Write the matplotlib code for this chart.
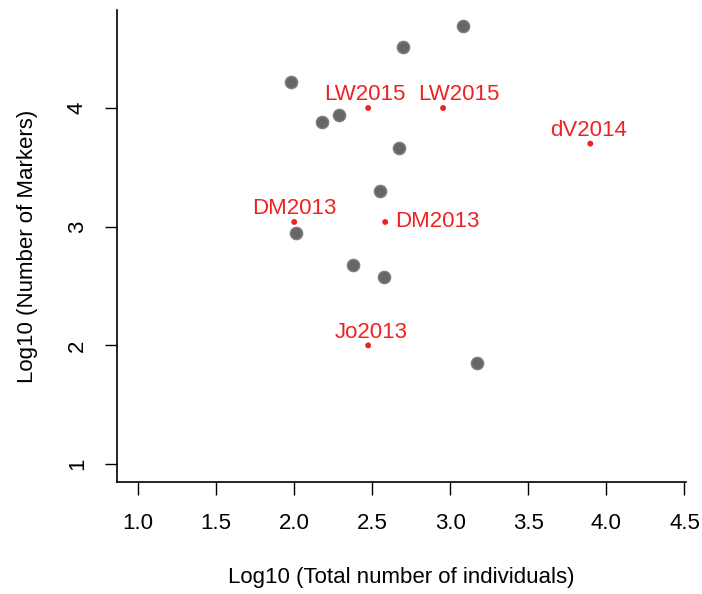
import matplotlib
matplotlib.use("Agg")
import matplotlib.pyplot as plt

plt.rcParams['font.family'] = ['Liberation Sans', 'DejaVu Sans']

# gray study points
gray_x = [3.083, 2.699, 1.981, 2.288, 2.179, 2.673, 2.551, 2.013, 2.378, 2.577, 3.173]
gray_y = [4.691, 4.514, 4.219, 3.941, 3.882, 3.663, 3.301, 2.947, 2.677, 2.576, 1.852]

# red labelled points
red_labels = ["LW2015", "LW2015", "dV2014", "DM2013", "DM2013", "Jo2013"]
red_x = [2.474, 2.954, 3.897, 2.000, 2.583, 2.474]
red_y = [4.000, 4.000, 3.700, 3.040, 3.040, 2.000]

# label placement (style): position and horizontal offset in points
label_pos = ["above", "above", "above", "above", "right", "above"]
label_dx = [-2.5, 11.5, -1.0, 0.0, 7.0, 2.5]

x_ticks = [1.0, 1.5, 2.0, 2.5, 3.0, 3.5, 4.0, 4.5]
y_ticks = [1, 2, 3, 4]

fig = plt.figure(figsize=(7.02, 5.94), dpi=100)
ax = fig.add_axes([117/702, 1-482/594, (686-117)/702, (482-10)/594])

ax.scatter(gray_x, gray_y, s=78, color="#666666", edgecolors="#7f7f7f", linewidths=1.0, zorder=3)
ax.scatter(red_x, red_y, s=18, color="#EE2222", edgecolors="none", zorder=4)
for lab, x, y, p, dx in zip(red_labels, red_x, red_y, label_pos, label_dx):
    if p == "above":
        ax.annotate(lab, (x, y), xytext=(dx, 2), textcoords="offset points",
                    ha="center", va="bottom", color="#EE2222", fontsize=16)
    else:
        ax.annotate(lab, (x, y), xytext=(dx, 0), textcoords="offset points",
                    ha="left", va="center", color="#EE2222", fontsize=16)

ax.set_xlim(0.865, 4.51)
ax.set_ylim(0.849, 4.826)
ax.set_xticks(x_ticks)
ax.set_xticklabels([f"{v:.1f}" for v in x_ticks])
ax.set_yticks(y_ticks)
ax.set_yticklabels([str(v) for v in y_ticks], rotation=90, va="center")
ax.spines['top'].set_visible(False)
ax.spines['right'].set_visible(False)
for s in ['left', 'bottom']:
    ax.spines[s].set_linewidth(1.2)
    ax.spines[s].set_color("black")
ax.tick_params(axis='both', length=9, width=1.0, labelsize=16, color="black")
ax.tick_params(axis='x', pad=13)
ax.tick_params(axis='y', pad=12)
ax.set_xlabel("Log10 (Total number of individuals)", fontsize=16, labelpad=24)
ax.set_ylabel("Log10 (Number of Markers)", fontsize=16, labelpad=21)

fig.savefig("out.png", dpi=100)
